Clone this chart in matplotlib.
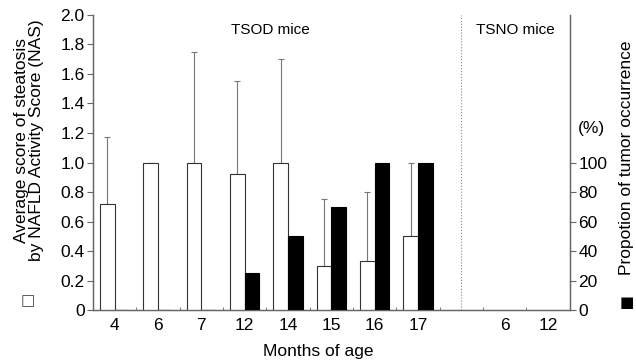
import numpy as np
import matplotlib
matplotlib.use("Agg")
import matplotlib.pyplot as plt
from matplotlib.ticker import FixedLocator

plt.rcParams['font.family'] = ['Liberation Sans', 'DejaVu Sans']

#-- data
tsod_months = ['4', '6', '7', '12', '14', '15', '16', '17']
tsno_months = ['6', '12']
nas_mean = [0.72, 1.0, 1.0, 0.92, 1.0, 0.30, 0.33, 0.50]
nas_err = [0.45, 0.0, 0.75, 0.63, 0.70, 0.45, 0.47, 0.50]
tumor_pct = [0, 0, 0, 25, 50, 70, 100, 100]

axis_col = '#666666'
fig = plt.figure(figsize=(6.36, 3.62), dpi=100)
ax = fig.add_axes([0.146, 0.1436, 0.75, 0.815])
ax2 = ax.twinx()

x = np.arange(len(tsod_months))
x_tsno = np.arange(len(tsno_months)) + 9
w = 0.34

ax.bar(x - w / 2, nas_mean, width=w, color='white', edgecolor='#333333', linewidth=0.8, zorder=3)
ax.errorbar(x - w / 2, nas_mean, yerr=[np.zeros(len(nas_err)), nas_err], fmt='none',
            ecolor='#777777', elinewidth=0.8, capsize=2, capthick=0.8, zorder=2)
ax2.bar(x + w / 2, tumor_pct, width=w, color='black', edgecolor='black', linewidth=0.8, zorder=3)

ax.set_xlim(-0.5, 10.5)
ax.set_ylim(0, 2.0)
ax2.set_ylim(0, 200)
ax.set_yticks(np.arange(0, 2.01, 0.2))
ax.set_yticklabels(['0'] + ['%.1f' % v for v in np.arange(0.2, 2.01, 0.2)])
ax2.set_yticks(np.arange(0, 101, 20))

ax.set_xticks(list(x) + list(x_tsno))
ax.set_xticklabels(tsod_months + tsno_months)
ax.xaxis.set_minor_locator(FixedLocator([0.5, 1.5, 2.5, 3.5, 4.5, 5.5, 6.5, 7.5, 8.5, 9.5]))
ax.tick_params(axis='x', which='major', length=0, pad=6, labelsize=12.5)
ax.tick_params(axis='x', which='minor', direction='in', length=2.5, color=axis_col)
ax.tick_params(axis='y', length=4, color=axis_col, labelsize=12.5, pad=2)
ax2.tick_params(axis='y', length=4, color=axis_col, labelsize=12.5, pad=2)

for a in (ax, ax2):
    a.spines['top'].set_visible(False)
    for s in ('left', 'right', 'bottom'):
        a.spines[s].set_color(axis_col)
        a.spines[s].set_linewidth(0.9)

ax.axvline(8, color='#888888', linestyle=':', linewidth=0.8, zorder=1)

ax.text(3.6, 1.9, 'TSOD mice', ha='center', va='center', fontsize=11)
ax.text(9.25, 1.9, 'TSNO mice', ha='center', va='center', fontsize=11)
ax2.text(10.68, 123, '(%)', ha='left', va='center', fontsize=12.5)

fig.text(0.5, 0.028, 'Months of age', ha='center', va='center', fontsize=12.5)
fig.text(0.045, 0.613, 'Average score of steatosis\nby NAFLD Activity Score (NAS)',
         rotation=90, ha='center', va='center', fontsize=12.5, linespacing=1.0)
fig.text(0.043, 0.17, '\u25a1', ha='center', va='center', fontsize=11, color='#444444',
         family=['DejaVu Sans'])
fig.text(0.985, 0.565, 'Propotion of tumor occurrence', rotation=90,
         ha='center', va='center', fontsize=12.5)
fig.text(0.985, 0.163, '\u25a0', ha='center', va='center', fontsize=11,
         family=['DejaVu Sans'])

fig.savefig('out.png', dpi=100)
